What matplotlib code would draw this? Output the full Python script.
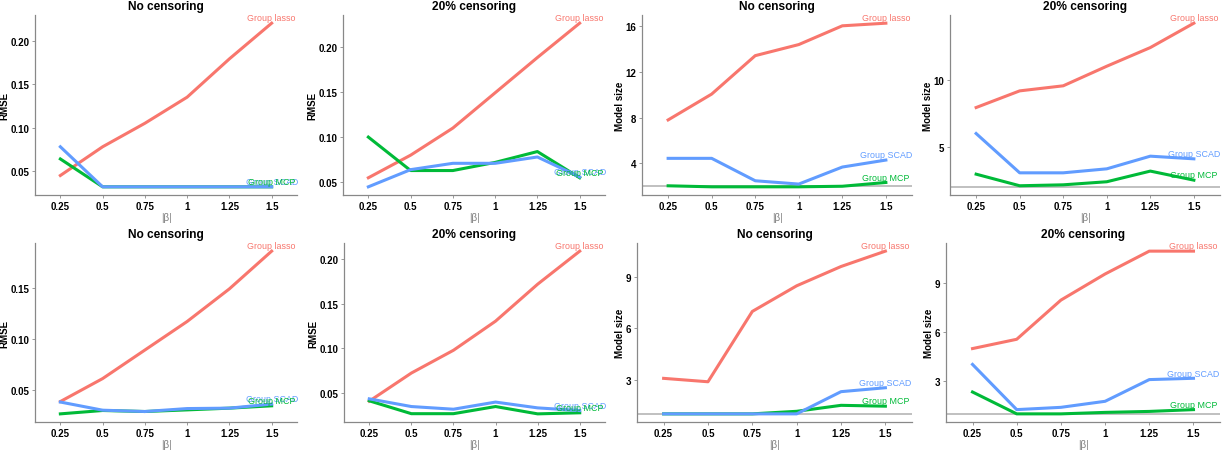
import matplotlib
matplotlib.use('Agg')
import matplotlib.pyplot as plt

plt.rcParams['font.family'] = ['Liberation Sans', 'DejaVu Sans']

# x축 : |beta|
beta = [0.25, 0.5, 0.75, 1, 1.25, 1.5]
beta_labels = ['0.25', '0.5', '0.75', '1', '1.25', '1.5']
methods = ['Group lasso', 'Group MCP', 'Group SCAD']
colors = {'Group lasso': '#F8766D', 'Group SCAD': '#619CFF', 'Group MCP': '#00BA38'}

# 위쪽 줄 (시나리오 1)
rmse_nocens_1 = {'Group lasso': [0.045, 0.078, 0.105, 0.135, 0.179, 0.220],
                 'Group SCAD': [0.078, 0.032, 0.032, 0.032, 0.032, 0.032],
                 'Group MCP': [0.064, 0.032, 0.032, 0.032, 0.032, 0.032]}
rmse_cens_1 = {'Group lasso': [0.055, 0.080, 0.110, 0.149, 0.188, 0.226],
               'Group SCAD': [0.045, 0.064, 0.071, 0.071, 0.078, 0.056],
               'Group MCP': [0.100, 0.063, 0.063, 0.072, 0.084, 0.055]}
size_nocens_1 = {'Group lasso': [7.8, 10.06, 13.42, 14.39, 16.03, 16.26],
                 'Group SCAD': [4.44, 4.44, 2.48, 2.19, 3.68, 4.29],
                 'Group MCP': [2.04, 1.95, 1.95, 1.95, 2.0, 2.33]}
size_cens_1 = {'Group lasso': [7.95, 9.2, 9.58, 11.05, 12.45, 14.28],
               'Group SCAD': [6.0, 3.05, 3.05, 3.35, 4.3, 4.1],
               'Group MCP': [2.95, 2.08, 2.15, 2.38, 3.18, 2.5]}

# 아래쪽 줄 (시나리오 2)
rmse_nocens_2 = {'Group lasso': [0.0385, 0.061, 0.089, 0.117, 0.149, 0.186],
                 'Group SCAD': [0.038, 0.030, 0.0287, 0.0316, 0.032, 0.036],
                 'Group MCP': [0.0264, 0.0297, 0.0287, 0.0303, 0.032, 0.0343]}
rmse_cens_2 = {'Group lasso': [0.041, 0.0725, 0.098, 0.1306, 0.172, 0.209],
               'Group SCAD': [0.0436, 0.035, 0.032, 0.040, 0.0335, 0.0305],
               'Group MCP': [0.0414, 0.027, 0.027, 0.035, 0.0268, 0.028]}
size_nocens_2 = {'Group lasso': [3.08, 2.88, 7.0, 8.5, 9.63, 10.53],
                 'Group SCAD': [1.0, 1.0, 1.0, 1.0, 2.3, 2.53],
                 'Group MCP': [1.0, 1.0, 1.0, 1.15, 1.5, 1.45]}
size_cens_2 = {'Group lasso': [5.0, 5.57, 7.97, 9.57, 10.97, 10.97],
               'Group SCAD': [4.03, 1.26, 1.4, 1.77, 3.1, 3.18],
               'Group MCP': [2.34, 1.0, 1.0, 1.09, 1.15, 1.26]}

true_size = [2, 1]  # 실제 모델 크기 (회색 선)

W, H = 1225, 452
fig = plt.figure(figsize=(W / 100, H / 100), dpi=100)

# 각 패널: (데이터, 제목, y라벨, y눈금, y눈금 글자, 박스[px], 기준선)
panels = [
    (rmse_nocens_1, 'No censoring', 'RMSE', [0.05, 0.10, 0.15, 0.20], ['0.05', '0.10', '0.15', '0.20'], (35, 16, 297, 196), None),
    (rmse_cens_1, '20% censoring', 'RMSE', [0.05, 0.10, 0.15, 0.20], ['0.05', '0.10', '0.15', '0.20'], (343, 16, 605, 196), None),
    (size_nocens_1, 'No censoring', 'Model size', [4, 8, 12, 16], ['4', '8', '12', '16'], (642, 16, 912, 196), true_size[0]),
    (size_cens_1, '20% censoring', 'Model size', [5, 10], ['5', '10'], (950, 16, 1220, 196), true_size[0]),
    (rmse_nocens_2, 'No censoring', 'RMSE', [0.05, 0.10, 0.15], ['0.05', '0.10', '0.15'], (35, 244, 297, 423), None),
    (rmse_cens_2, '20% censoring', 'RMSE', [0.05, 0.10, 0.15, 0.20], ['0.05', '0.10', '0.15', '0.20'], (344, 244, 605, 423), None),
    (size_nocens_2, 'No censoring', 'Model size', [3, 6, 9], ['3', '6', '9'], (637, 244, 912, 423), true_size[1]),
    (size_cens_2, '20% censoring', 'Model size', [3, 6, 9], ['3', '6', '9'], (946, 244, 1220, 423), true_size[1]),
]

for data, title, ylab, yt, ytl, box, hline in panels:
    x0, y0, x1, y1 = box
    ax = fig.add_axes([x0 / W, 1 - y1 / H, (x1 - x0) / W, (y1 - y0) / H])

    if hline is not None:
        ax.axhline(hline, color='#BBBBBB', lw=1.3, zorder=1)

    for m in methods:
        ax.plot(beta, data[m], color=colors[m], lw=2.2, zorder=2)

    # 선 끝에 라벨 달기
    for m in ['Group lasso', 'Group SCAD', 'Group MCP']:
        ax.annotate(m, (beta[-1], data[m][-1]), textcoords='offset points',
                    xytext=(0, 0.5), ha='center', va='bottom',
                    color=colors[m], fontsize=6.4, zorder=3)

    ax.set_xlim(0.1, 1.65)
    ax.margins(y=0.05)
    ax.set_xticks(beta)
    ax.set_xticklabels(beta_labels, fontsize=7, fontweight='bold')
    ax.set_yticks(yt)
    ax.set_yticklabels(ytl, fontsize=7, fontweight='bold')
    ax.set_title(title, fontsize=8.6, fontweight='bold', pad=4)
    ax.set_ylabel(ylab, fontsize=7, fontweight='bold', labelpad=0.5)
    ax.set_xlabel('|β|', fontsize=7, color='#7f7f7f', labelpad=1)

    for s in ['top', 'right']:
        ax.spines[s].set_visible(False)
    for s in ['left', 'bottom']:
        ax.spines[s].set_color('#888888')
        ax.spines[s].set_linewidth(0.9)
    ax.tick_params(length=2, width=0.6, color='#888888', pad=2)

plt.savefig('out.png', dpi=100)
